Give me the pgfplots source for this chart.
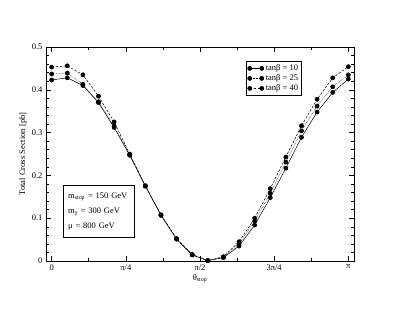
\documentclass[border=0pt]{standalone}
\usepackage{fontspec}
\setmainfont{Liberation Serif}
\usepackage{pgfplots}
\usepackage{pgfplotstable}
\pgfplotsset{compat=1.18}
\pgfplotstableread{
x s10 s25 s40
0.00000 0.423 0.437 0.453
0.16535 0.428 0.439 0.456
0.33069 0.410 0.413 0.435
0.49604 0.370 0.372 0.385
0.66139 0.312 0.315 0.325
0.82673 0.247 0.248 0.250
0.99208 0.175 0.175 0.176
1.15743 0.107 0.107 0.108
1.32278 0.051 0.052 0.052
1.48812 0.014 0.015 0.015
1.65347 0.001 0.001 0.001
1.81882 0.008 0.009 0.010
1.98416 0.035 0.040 0.045
2.14951 0.084 0.093 0.100
2.31486 0.148 0.158 0.169
2.48020 0.217 0.231 0.243
2.64555 0.289 0.304 0.316
2.81090 0.348 0.362 0.378
2.97624 0.394 0.407 0.428
3.14159 0.425 0.435 0.454
}\data
\begin{document}
\begin{tikzpicture}[x=1pt,y=1pt]
\useasboundingbox (-46,-47) rectangle (353,261);
\begin{axis}[
  at={(0,0)}, anchor=south west,
  scale only axis, width=308pt, height=214pt,
  xmin=-0.06, xmax=3.2016,
  ymin=0, ymax=0.5,
  xtick={0,0.785398,1.570796,2.356194,3.141593},
  xticklabels={0,π/4,π/2,3π/4,π},
  minor xtick={0.392699,1.178097,1.963495,2.748894},
  ytick={0,0.1,0.2,0.3,0.4,0.5},
  yticklabels={0,0.1,0.2,0.3,0.4,0.5},
  minor y tick num=4,
  major tick length=5pt, minor tick length=3pt,
  tick style={black, line width=0.5pt},
  axis line style={line width=0.7pt},
  tick label style={font=\fontsize{8.5}{10}\selectfont},
  label style={font=\fontsize{8.5}{10}\selectfont},
  xlabel={θ\textsubscript{stop}},
  ylabel={Total Cross Section [pb]},
  xlabel style={yshift=3pt},
  ylabel style={yshift=-2pt},
  legend style={at={(rel axis cs:0.649,0.935)}, anchor=north west,
    font=\fontsize{8.5}{10}\selectfont, draw=black, line width=0.5pt,
    inner sep=1.5pt, row sep=-1.5pt},
  legend cell align=left,
  legend image code/.code={\draw[#1,mark repeat=1,mark phase=1] plot coordinates {(0pt,0pt) (12pt,0pt)};},
]
\addplot[black, solid, line width=0.5pt, mark=*, mark size=2.1pt, mark options={solid, fill=black}] table[x=x,y=s10] {\data};
\addlegendentry{tanβ = 10}
\addplot[black, densely dotted, line width=0.5pt, mark=*, mark size=2.1pt, mark options={solid, fill=black}] table[x=x,y=s25] {\data};
\addlegendentry{tanβ = 25}
\addplot[black, dash pattern=on 2.5pt off 1.5pt, line width=0.5pt, mark=*, mark size=2.1pt, mark options={solid, fill=black}] table[x=x,y=s40] {\data};
\addlegendentry{tanβ = 40}
\node[draw=black, line width=0.5pt, anchor=north west, align=left,
  font=\fontsize{8.5}{10}\selectfont, inner sep=0pt, minimum width=71pt, minimum height=52pt, text width=61pt]
  at (rel axis cs:0.055,0.355)
  {m\textsubscript{stop} = 150 GeV\\[5pt] m\textsubscript{χ} = 300 GeV\\[5pt] μ = 800 GeV};
\end{axis}
\end{tikzpicture}
\end{document}
